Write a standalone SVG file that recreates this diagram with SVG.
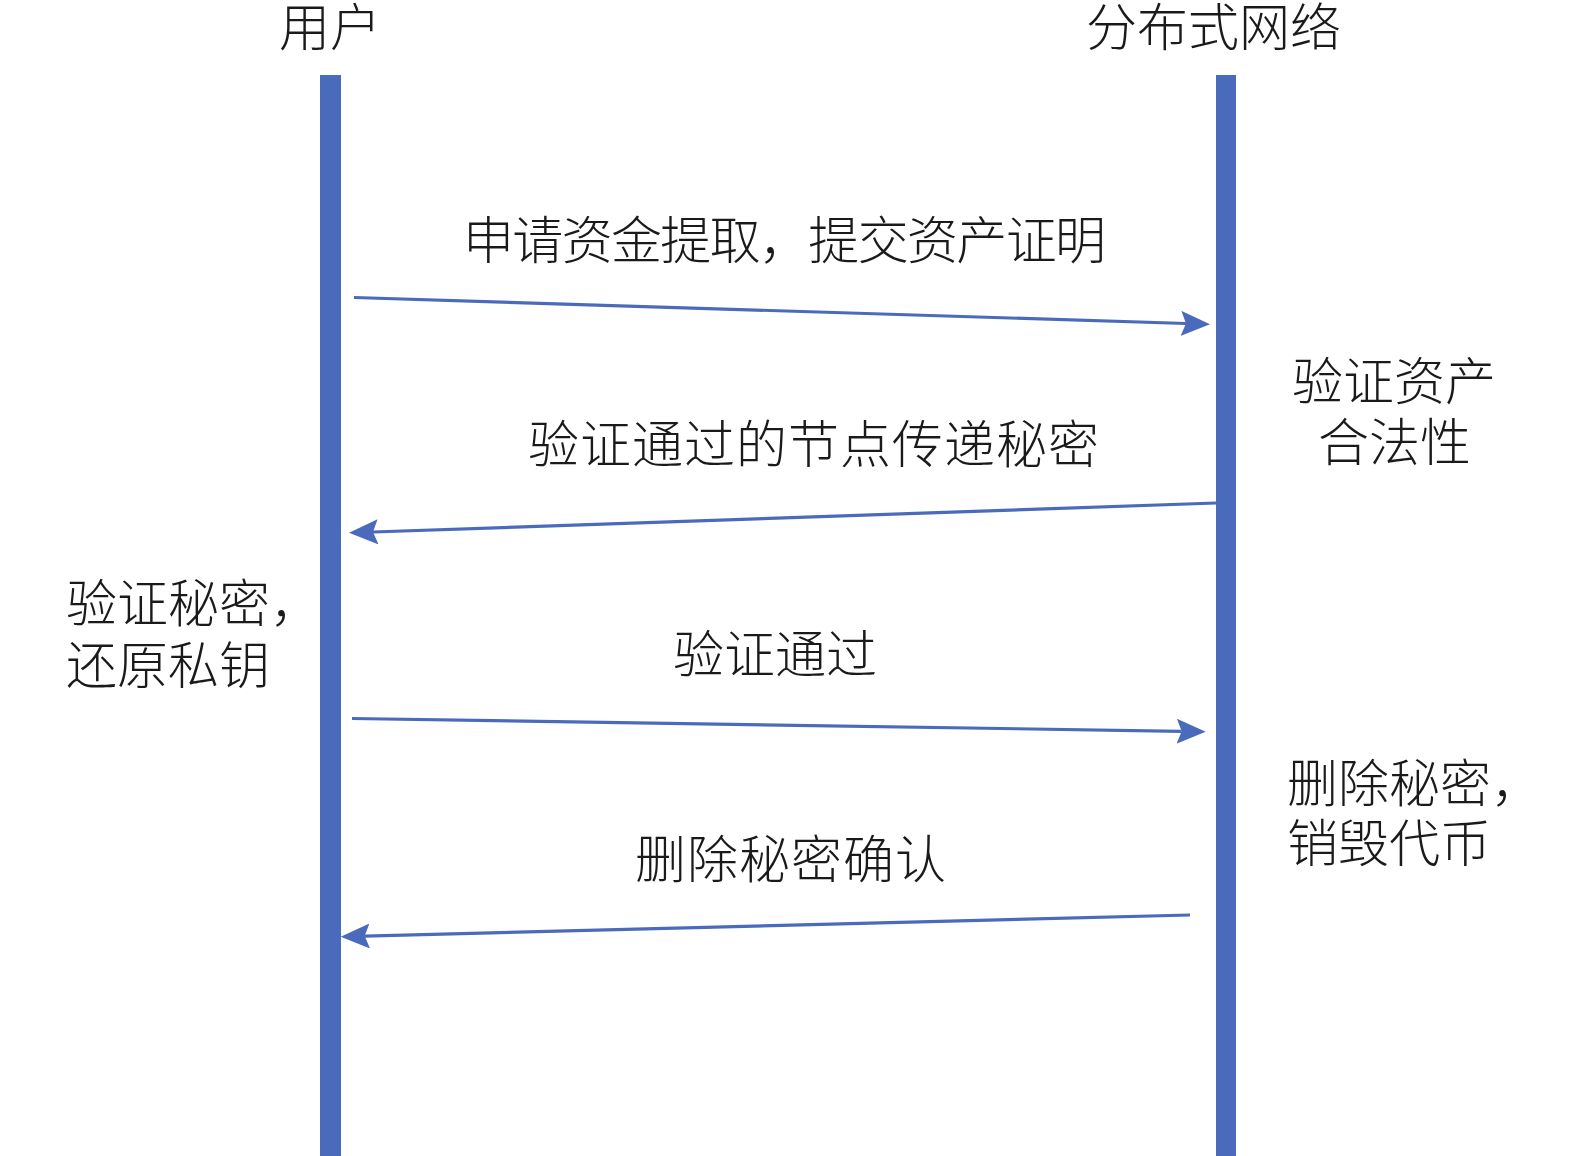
<svg xmlns="http://www.w3.org/2000/svg" width="1575" height="1156" viewBox="0 0 1575 1156">
<style>
.lbl{font-family:"Noto Sans CJK SC","Noto Sans CJK JP",sans-serif;font-size:51px;fill:#1a1a1a;font-weight:300}
.life{fill:#4A6BBC}
.msg{stroke:#4A6BBC;stroke-width:3.2;fill:none;marker-end:url(#arr)}
</style>
<defs>
<marker id="arr" viewBox="0 0 29 25" refX="5" refY="12.5" markerWidth="29" markerHeight="25" markerUnits="userSpaceOnUse" orient="auto">
<path d="M0,0 L29,12.5 L0,25 L5,12.5 Z" fill="#4A6BBC"/>
</marker>
</defs>
<rect width="1575" height="1156" fill="#ffffff"/>
<g id="user">
<rect class="life" x="320" y="75" width="21" height="1081"/>
<text class="lbl" x="279" y="46">用户</text>
</g>
<g id="network">
<rect class="life" x="1216" y="75" width="20" height="1081"/>
<text class="lbl" x="1086" y="46">分布式网络</text>
</g>
<g id="note-verify-asset">
<text class="lbl" x="1292" y="400">验证资产<tspan x="1318" dy="61">合法性</tspan></text>
</g>
<g id="note-verify-secret">
<text class="lbl" x="66" y="622">验证秘密，<tspan x="66" dy="62">还原私钥</tspan></text>
</g>
<g id="note-delete-secret">
<text class="lbl" x="1287" y="802">删除秘密，<tspan x="1287" dy="60">销毁代币</tspan></text>
</g>
<g id="connectors">
<line class="msg" x1="354" y1="297.5" x2="1186" y2="323.5"/>
<line class="msg" x1="1216" y1="503" x2="373" y2="532"/>
<line class="msg" x1="352" y1="718.5" x2="1181.7" y2="731.3"/>
<line class="msg" x1="1190" y1="915" x2="364.7" y2="936.1"/>
<text class="lbl" x="463" y="259" textLength="643" lengthAdjust="spacing">申请资金提取，提交资产证明</text>
<text class="lbl" x="528" y="463" textLength="571" lengthAdjust="spacing">验证通过的节点传递秘密</text>
<text class="lbl" x="673" y="673">验证通过</text>
<text class="lbl" x="635" y="878" textLength="311" lengthAdjust="spacing">删除秘密确认</text>
</g>
</svg>
